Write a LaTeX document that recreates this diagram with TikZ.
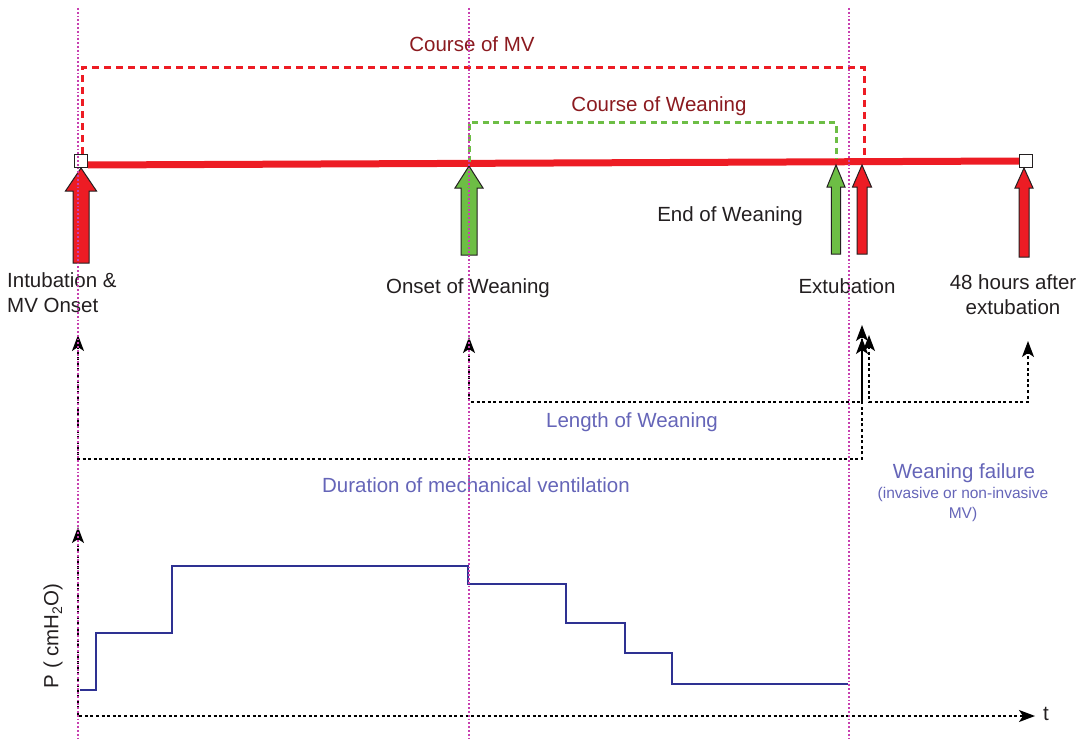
\documentclass[tikz,border=0pt]{standalone}
\usepackage{fontspec}
\setmainfont{Liberation Sans}
\usetikzlibrary{arrows.meta}
\definecolor{mvred}{HTML}{ED1C24}
\definecolor{wgreen}{HTML}{6DBE45}
\definecolor{darkred}{HTML}{8B1A1F}
\definecolor{lblue}{HTML}{6565B8}
\definecolor{stepblue}{HTML}{2E3192}
\definecolor{guide}{HTML}{C840B0}
\definecolor{txt}{HTML}{231F20}
\newcommand{\blkarrow}[7]{%
  \draw[blockarrow, fill=#7] (#1,#2) -- (#1+#5,#3) -- (#1+#6,#3) -- (#1+#6,#4)
    -- (#1-#6,#4) -- (#1-#6,#3) -- (#1-#5,#3) -- cycle;}
\newcommand{\tiphead}[2]{% tip coordinate name, direction angle
  \fill[black] (#1) -- ++(#2+160:13pt) -- ++(#2:3.5pt) -- ($(#1)+(#2+200:13pt)+(#2:3.5pt)$) -- ++(#2+180:3.5pt) -- cycle;}
\begin{document}
\begin{tikzpicture}[x=1pt,y=-1pt,
  lbl/.style={font=\fontsize{20.5}{25}\selectfont, text=txt, inner sep=0pt, anchor=base},
  redlbl/.style={lbl, text=darkred},
  bluelbl/.style={lbl, text=lblue},
  smallblue/.style={lbl, text=lblue, font=\fontsize{15.5}{19}\selectfont},
  blockarrow/.style={draw=txt, line width=1pt, line join=miter},
  endbox/.style={draw=txt, fill=white, line width=1pt, minimum size=13pt, inner sep=0pt},
  guideline/.style={guide, line width=1.4pt, dash pattern=on 1.8pt off 2pt},
  dotline/.style={black, line width=1.4pt, dash pattern=on 3pt off 2.6pt},
  tipline/.style={black, line width=1.4pt, solid, -{Stealth[length=16pt,width=12pt,inset=4pt]}},
  mvbox/.style={mvred, line width=3pt, dash pattern=on 7pt off 5pt},
  wbox/.style={wgreen, line width=3pt, dash pattern=on 6pt off 4.5pt},
  pressure/.style={stepblue, line width=1.5pt, line join=miter}
]
\useasboundingbox (0,0) rectangle (1089,741);

% timeline
\node[endbox] (start) at (81,161) {};
\node[endbox] (stop) at (1026,161) {};
\draw[mvred, line width=7pt] (start.east |- 0,165) -- (stop.west |- 0,161);

% course boxes
\coordinate (mvL) at (82,68);
\coordinate (mvR) at (864,68);
\coordinate (mvRb) at (864,159);
\draw[mvbox] (start.north -| mvL) -- (mvL) -- (mvR) -- (mvRb);
\coordinate (wL) at (469,123);
\coordinate (wR) at (836,123);
\draw[wbox] (469,162) -- (wL) -- (wR) -- (836,159);
\node[redlbl] (cmv) at (472,52) {Course of MV};
\node[redlbl] (cw) at (659,112) {Course of Weaning};

% block arrows
\blkarrow{81}{168}{191}{263}{15.5}{8}{mvred}
\blkarrow{469}{166}{188}{255}{14}{8}{wgreen}
\blkarrow{836}{165}{187}{254}{9}{4.6}{wgreen}
\blkarrow{862}{165}{187}{254}{9.5}{5}{mvred}
\blkarrow{1024}{168}{188}{257}{9}{5}{mvred}

% event labels
\node[lbl, anchor=base west, align=left] (intub) at (7,312) {Intubation \&\\MV Onset};
\node[lbl] (onset) at (468,293) {Onset of Weaning};
\node[lbl] (endw) at (730,221) {End of Weaning};
\node[lbl] (extub) at (847,293) {Extubation};
\node[lbl, align=center] (h48) at (1013,314) {48 hours after\\extubation};

% interval brackets
\coordinate (d1) at (78,335);
\coordinate (d2) at (862,325);
\draw[dotline] (78,346) -- (78,459) -- (862,459) -- (862,336);
\draw[tipline] (78,347) -- (d1);
\draw[tipline] (862,337) -- (d2);
\coordinate (l1) at (469,337);
\coordinate (l2) at (862,338);
\draw[dotline] (469,348) -- (469,402) -- (862,402) -- (862,349);
\draw[tipline] (469,349) -- (l1);
\draw[tipline] (862,350) -- (l2);
\coordinate (f1) at (869,335);
\coordinate (f2) at (1028,341);
\draw[dotline] (869,346) -- (869,402) -- (1028,402) -- (1028,352);
\draw[tipline] (869,347) -- (f1);
\draw[tipline] (1028,353) -- (f2);
\node[bluelbl] (lw) at (632,427) {Length of Weaning};
\node[bluelbl] (dmv) at (476,492) {Duration of mechanical ventilation};
\node[bluelbl] (wf) at (964,478) {Weaning failure};
\node[smallblue] (wf2) at (963,498) {(invasive or non-invasive};
\node[smallblue] (wf3) at (963,518) {MV)};

% pressure plot
\coordinate (origin) at (78,716);
\coordinate (ytip) at (78,527);
\coordinate (xtip) at (1035,716);
\draw[dotline] (78,538) -- (origin) -- (1024,716);
\draw[tipline] (78,539) -- (ytip);
\draw[tipline] (1023,716) -- (xtip);
\node[lbl, anchor=base] (tlab) at (1046,720) {t};
\node[lbl, anchor=center, rotate=90] (plab) at (53,636) {P ( cmH{\raisebox{-0.35ex}{\fontsize{14}{14}\selectfont 2}}O)};
\draw[pressure] (80,690) -- (96,690) -- (96,633) -- (172,633) -- (172,566) -- (468,566)
  -- (468,584) -- (566,584) -- (566,623) -- (625,623) -- (625,653) -- (672,653)
  -- (672,684) -- (848,684);

% guide lines
\foreach \gx/\gn in {78/ga, 469/gb, 849/gc} {
  \coordinate (\gn top) at (\gx,8);
  \coordinate (\gn bot) at (\gx,741);
  \draw[guideline] (\gn top) -- (\gn bot);
}
\end{tikzpicture}
\end{document}
